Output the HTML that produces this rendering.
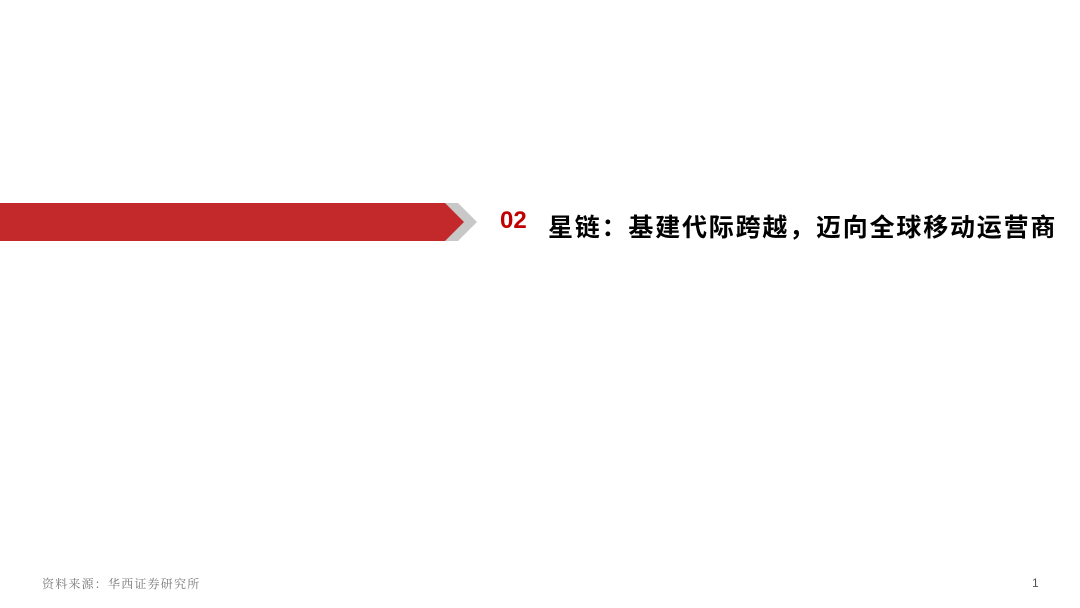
<!DOCTYPE html>
<html><head><meta charset="utf-8"><style>
body{margin:0;width:1080px;height:608px;background:#fff;position:relative;overflow:hidden}
.t{position:absolute;white-space:nowrap}
</style></head><body>
<svg width="1080" height="608" style="position:absolute;left:0;top:0">
<polygon points="443,203 458,203 477,222 458,241 443,241 462,222" fill="#c8c8c8"/>
<polygon points="0,203 445,203 464,222 445,241 0,241" fill="#c3282a"/>
</svg>
<div class="t" style="left:500px;top:207px;font:bold 24px 'Liberation Sans',sans-serif;color:#c00000">02</div>
<div class="t" style="left:548px;top:208px;font:bold 25px 'Liberation Sans','Noto Sans CJK SC',sans-serif;color:#000;letter-spacing:1.8px">星链：基建代际跨越，迈向全球移动运营商</div>
<div class="t" style="left:42px;top:575px;font:12px 'Liberation Serif','Noto Serif CJK SC',serif;color:#777;letter-spacing:1.2px">资料来源：华西证券研究所</div>
<div class="t" style="left:1032px;top:576px;font:12px 'Liberation Sans',sans-serif;color:#555">1</div>
</body></html>
